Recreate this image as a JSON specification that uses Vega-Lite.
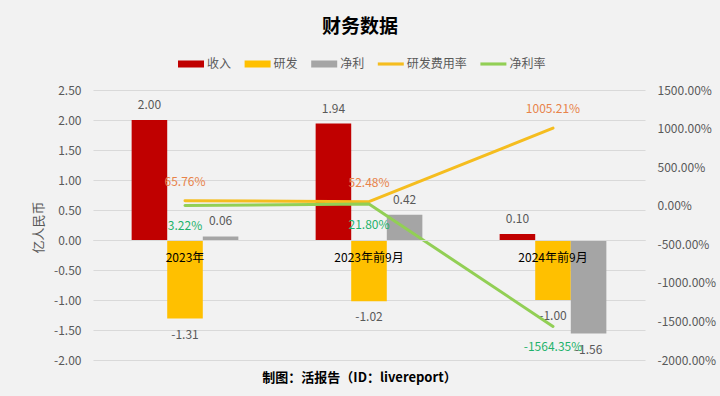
{
"$schema":"https://vega.github.io/schema/vega-lite/v6.json",
"width":552,"height":270,
"autosize":{"type":"none"},
"padding":{"left":93,"top":90,"right":75,"bottom":36},
"background":"#f2f2f2",
"title":{"text":"财务数据","fontSize":19,"fontWeight":"bold","color":"#000000","font":"Noto Sans CJK SC","anchor":"middle","dx":-9,"offset":14},
"config":{"font":"Noto Sans CJK SC","view":{"stroke":null},"locale":{"number":{"decimal":".","thousands":",","grouping":[3],"currency":["",""],"minus":"-"}}},
"data":{"values":[
{"period":"2023年","series":"收入","value":2.00},
{"period":"2023年","series":"研发","value":-1.31},
{"period":"2023年","series":"净利","value":0.06},
{"period":"2023年前9月","series":"收入","value":1.94},
{"period":"2023年前9月","series":"研发","value":-1.02},
{"period":"2023年前9月","series":"净利","value":0.42},
{"period":"2024年前9月","series":"收入","value":0.10},
{"period":"2024年前9月","series":"研发","value":-1.00},
{"period":"2024年前9月","series":"净利","value":-1.56},
{"period":"2023年","series":"研发费用率","rate":0.6576},
{"period":"2023年前9月","series":"研发费用率","rate":0.5248},
{"period":"2024年前9月","series":"研发费用率","rate":10.0521},
{"period":"2023年","series":"净利率","rate":0.0322},
{"period":"2023年前9月","series":"净利率","rate":0.2180},
{"period":"2024年前9月","series":"净利率","rate":-15.6435}
]},
"encoding":{
"x":{"field":"period","type":"nominal","sort":null,"scale":{"paddingInner":0.42,"paddingOuter":0.21},
"axis":{"title":"制图：活报告（ID：livereport）","titleFontSize":13,"titleFontWeight":"bold","titleColor":"#000000","titleX":266,"titleY":137,"titleBaseline":"middle","offset":-120,"labelAngle":0,"labelColor":"#000000","labelFontSize":12,"labelPadding":12,"ticks":false,"domainColor":"#d9d9d9","domainWidth":1,"zindex":1}}
},
"layer":[
{"transform":[{"filter":{"field":"series","oneOf":["收入","研发","净利"]}}],
"mark":{"type":"bar"},
"encoding":{
"xOffset":{"field":"series","type":"nominal","sort":null,"scale":{"domain":["收入","研发","净利"],"paddingInner":0,"paddingOuter":0}},
"y":{"field":"value","type":"quantitative","scale":{"domain":[-2,2.5],"nice":false},
"axis":{"title":"亿人民币","titleFontSize":13,"titleFontWeight":"normal","titleColor":"#595959","titleX":-48,"titleY":137,"values":[-2,-1.5,-1,-0.5,0,0.5,1,1.5,2,2.5],"format":".2f","labelColor":"#595959","labelFontSize":12,"labelPadding":12,"ticks":false,"domain":false,"grid":true,"gridColor":"#d9d9d9","gridWidth":1,"zindex":0}},
"color":{"field":"series","type":"nominal","sort":null,
"scale":{"domain":["收入","研发","净利","研发费用率","净利率"],"range":["#c00000","#ffc000","#a5a5a5","#f5bd1f","#92cf55"]},
"legend":{"title":null,"orient":"none","legendX":85,"legendY":-39,"direction":"horizontal","columns":5,"gridAlign":"none","symbolSize":676,"labelFontSize":12,"labelColor":"#595959","labelOffset":3,"columnPadding":12.6,"symbolStrokeWidth":0,
"encode":{"symbols":{"update":{"shape":{"signal":"indexof(['研发费用率','净利率'],datum.value)>=0?'M-1,-0.12H1V0.12H-1Z':'M-1,-0.27H1V0.27H-1Z'"}}}}}}
}},
{"transform":[{"filter":{"field":"series","oneOf":["收入","研发","净利"]}},{"filter":"datum.value>=0"}],
"mark":{"type":"text","dy":-15,"fontSize":12,"color":"#595959"},
"encoding":{
"xOffset":{"field":"series","type":"nominal","sort":null},
"y":{"field":"value","type":"quantitative","scale":{"domain":[-2,2.5],"nice":false},"axis":null},
"text":{"field":"value","type":"quantitative","format":".2f"}
}},
{"transform":[{"filter":{"field":"series","oneOf":["收入","研发","净利"]}},{"filter":"datum.value<0"}],
"mark":{"type":"text","dy":16,"fontSize":12,"color":"#595959"},
"encoding":{
"xOffset":{"field":"series","type":"nominal","sort":null},
"y":{"field":"value","type":"quantitative","scale":{"domain":[-2,2.5],"nice":false},"axis":null},
"text":{"field":"value","type":"quantitative","format":".2f"}
}},
{"transform":[{"filter":{"field":"series","oneOf":["研发费用率","净利率"]}}],
"mark":{"type":"line","strokeWidth":3,"strokeCap":"round","strokeJoin":"round"},
"encoding":{
"y":{"field":"rate","type":"quantitative","scale":{"domain":[-20,15],"nice":false},
"axis":{"orient":"right","title":null,"values":[-20,-15,-10,-5,0,5,10,15],"format":".2%","labelColor":"#595959","labelFontSize":12,"labelPadding":12,"ticks":false,"domain":false,"grid":false}},
"color":{"field":"series","type":"nominal","sort":null,"legend":null}
}},
{"transform":[{"filter":{"field":"series","equal":"研发费用率"}}],
"mark":{"type":"text","dy":-19,"fontSize":12,"color":"#e8834a"},
"encoding":{
"y":{"field":"rate","type":"quantitative","scale":{"domain":[-20,15],"nice":false},"axis":null},
"text":{"field":"rate","type":"quantitative","format":".2%"}
}},
{"transform":[{"filter":{"field":"series","equal":"净利率"}}],
"mark":{"type":"text","dy":21,"fontSize":12,"color":"#1fb26b"},
"encoding":{
"y":{"field":"rate","type":"quantitative","scale":{"domain":[-20,15],"nice":false},"axis":null},
"text":{"field":"rate","type":"quantitative","format":".2%"}
}}
],
"resolve":{"scale":{"y":"independent"}}
}
